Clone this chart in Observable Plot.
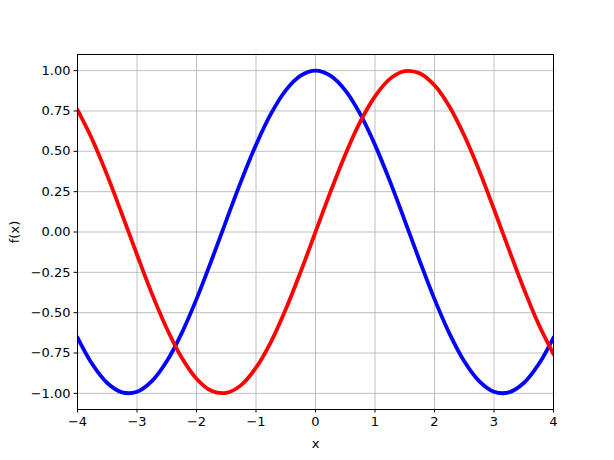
<!DOCTYPE html>
<html>
<head>
<meta charset="utf-8">
<script src="https://cdn.jsdelivr.net/npm/d3@7"></script>
<script src="https://cdn.jsdelivr.net/npm/@observablehq/plot@0.6"></script>
<style>
  html, body { margin: 0; padding: 0; background: #fff; }
  svg { display: block; }
</style>
</head>
<body>
<div id="chart"></div>
<script>
const xs = [-4, -3.75, -3.5, -3.25, -3, -2.75, -2.5, -2.25, -2, -1.75, -1.5, -1.25, -1, -0.75, -0.5, -0.25,
            0, 0.25, 0.5, 0.75, 1, 1.25, 1.5, 1.75, 2, 2.25, 2.5, 2.75, 3, 3.25, 3.5, 3.75, 4];
const blueValues = [-0.654, -0.820, -0.936, -0.994, -0.990, -0.924, -0.801, -0.628, -0.416, -0.178, 0.071, 0.315, 0.540, 0.732, 0.878, 0.969,
                    1.000, 0.969, 0.878, 0.732, 0.540, 0.315, 0.071, -0.178, -0.416, -0.628, -0.801, -0.924, -0.990, -0.994, -0.936, -0.820, -0.654];
const redValues = [0.757, 0.572, 0.351, 0.108, -0.141, -0.382, -0.598, -0.778, -0.909, -0.984, -0.997, -0.949, -0.841, -0.682, -0.479, -0.247,
                   0.000, 0.247, 0.479, 0.682, 0.841, 0.949, 0.997, 0.984, 0.909, 0.778, 0.598, 0.382, 0.141, -0.108, -0.351, -0.572, -0.757];
const xTicks = [-4, -3, -2, -1, 0, 1, 2, 3, 4];
const yTicks = [-1.00, -0.75, -0.50, -0.25, 0.00, 0.25, 0.50, 0.75, 1.00];

const blue = xs.map((x, i) => ({x, y: blueValues[i]}));
const red = xs.map((x, i) => ({x, y: redValues[i]}));

const fmtX = d3.format("d");
const fmtY = d3.format(".2f");

const chart = Plot.plot({
  width: 614,
  height: 460,
  marginLeft: 77,
  marginRight: 61,
  marginTop: 54,
  marginBottom: 51,
  style: {fontFamily: "DejaVu Sans", fontSize: "13px", color: "#000", background: "#fff"},
  x: {domain: [-4, 4]},
  y: {domain: [-1.1, 1.1]},
  marks: [
    Plot.gridX(xTicks, {stroke: "#b0b0b0", strokeOpacity: 1, strokeWidth: 0.8}),
    Plot.gridY(yTicks, {stroke: "#b0b0b0", strokeOpacity: 1, strokeWidth: 0.8}),
    Plot.line(blue, {x: "x", y: "y", stroke: "#0000ff", strokeWidth: 3.8, curve: "catmull-rom", clip: true}),
    Plot.line(red, {x: "x", y: "y", stroke: "#ff0000", strokeWidth: 3.8, curve: "catmull-rom", clip: true}),
    Plot.frame({stroke: "#000", strokeWidth: 1}),
    Plot.axisX(xTicks, {tickFormat: fmtX, tickSize: 3.5, tickPadding: 3.5, fontSize: 13,
      label: "x", labelAnchor: "center", labelArrow: "none", labelOffset: 38}),
    Plot.axisY(yTicks, {tickFormat: fmtY, tickSize: 3.5, tickPadding: 3.5, fontSize: 13,
      label: "f(x)", labelAnchor: "center", labelArrow: "none", labelOffset: 68})
  ]
});
document.getElementById("chart").appendChild(chart);
</script>
</body>
</html>
